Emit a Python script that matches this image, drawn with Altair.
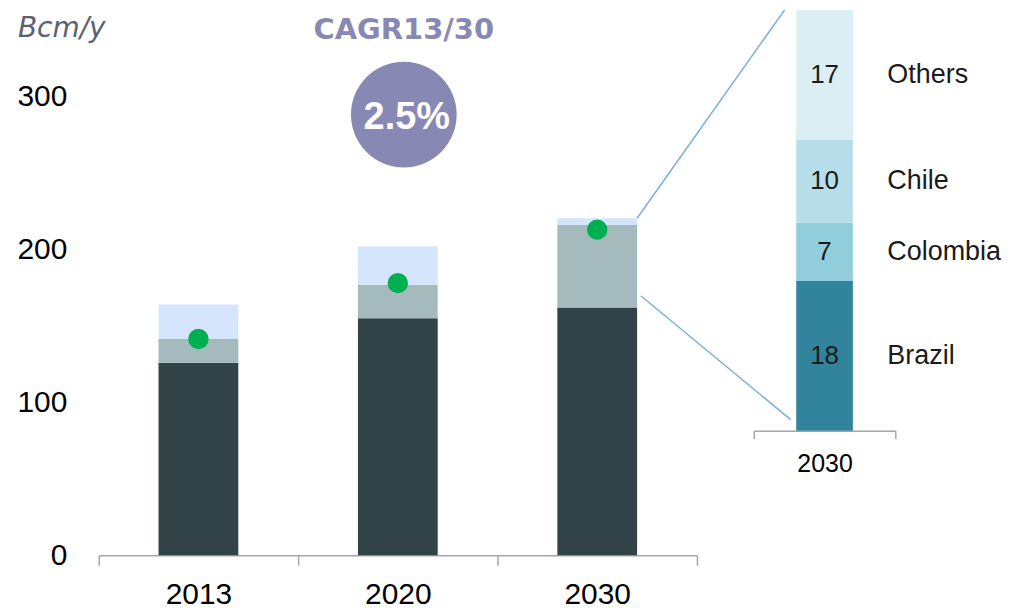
import altair as alt
import pandas as pd

# ---------------- data ----------------
years = ["2013", "2020", "2030"]
series = ["Segment 1", "Segment 2", "Segment 3"]
seg1_vals = [126, 155, 162]
seg2_vals = [15.5, 22, 54]
seg3_vals = [22.5, 25, 4.5]
dot_vals = [141.5, 178, 213]

inset_year = "2030"
countries = ["Brazil", "Colombia", "Chile", "Others"]
country_vals = [18, 7, 10, 17]

unit_label = "Bcm/y"
cagr_title = "CAGR13/30"
cagr_value = "2.5%"
y_ticks = [0, 100, 200, 300]

series_colors = ["#314346", "#a5babd", "#d5e5fb"]
country_colors = ["#31849b", "#92cddc", "#b7dee8", "#daeef3"]
dot_color = "#00b050"
accent = "#8888b4"
link_color = "#7bafd6"
axis_gray = "#a6a6a6"

rows = []
for i, (s, vals) in enumerate(zip(series, [seg1_vals, seg2_vals, seg3_vals])):
    for y, v in zip(years, vals):
        rows.append({"year": y, "series": s, "order": i, "value": v})
bars_df = pd.DataFrame(rows)
dots_df = pd.DataFrame({"year": years, "value": dot_vals})

# ---------------- main panel ----------------
W, H = 600, 547
PX = 460 / 300
ymax = H / PX

x_main = alt.X(
    "year:N", sort=years,
    scale=alt.Scale(paddingInner=0, paddingOuter=0),
    axis=alt.Axis(title=None, labelAngle=0, tickBand="extent", tickSize=10,
                  labelFontSize=30, labelFont="Liberation Sans", labelColor="#000",
                  labelPadding=14, domainColor=axis_gray, tickColor=axis_gray,
                  domainWidth=1.5, tickWidth=1.5, grid=False),
)
y_scale = alt.Scale(domain=[0, ymax], nice=False)
y_main = alt.Y(
    "value:Q", stack="zero", scale=y_scale,
    axis=alt.Axis(title=None, values=y_ticks, domain=False, ticks=False, grid=False,
                  labelFontSize=30, labelFont="Liberation Sans", labelColor="#000",
                  labelPadding=32),
)

bars = alt.Chart(bars_df).mark_bar(width=alt.RelativeBandSize(0.4)).encode(
    x=x_main,
    y=y_main,
    color=alt.Color("series:N", scale=alt.Scale(domain=series, range=series_colors), legend=None),
    order=alt.Order("order:Q"),
)

dots = alt.Chart(dots_df).mark_circle(size=420, color=dot_color, opacity=1).encode(
    x=alt.X("year:N", sort=years),
    y=alt.Y("value:Q", scale=y_scale),
)

one = pd.DataFrame({"k": [0]})

unit_txt = alt.Chart(pd.DataFrame({"t": [unit_label]})).mark_text(
    align="left", baseline="alphabetic", fontSize=28, fontStyle="italic",
    font="DejaVu Sans", color="#5b6172",
).encode(x=alt.value(-81), y=alt.value(27), text="t:N")

cagr_txt = alt.Chart(pd.DataFrame({"t": [cagr_title]})).mark_text(
    align="center", baseline="alphabetic", fontSize=29, fontWeight="bold",
    font="DejaVu Sans", color=accent,
).encode(x=alt.value(306), y=alt.value(29), text="t:N")

cagr_circle = alt.Chart(one).mark_point(
    shape="circle", filled=True, size=106 * 106, color=accent, opacity=1,
).encode(x=alt.value(306), y=alt.value(105))

cagr_val = alt.Chart(pd.DataFrame({"t": [cagr_value]})).mark_text(
    align="center", baseline="alphabetic", fontSize=38, fontWeight="bold",
    font="Liberation Sans", color="white",
).encode(x=alt.value(309), y=alt.value(119), text="t:N")

link1 = alt.Chart(one).mark_rule(color=link_color, strokeWidth=1.5).encode(
    x=alt.value(540), x2=alt.value(688), y=alt.value(209), y2=alt.value(0))
link2 = alt.Chart(one).mark_rule(color=link_color, strokeWidth=1.5).encode(
    x=alt.value(544), x2=alt.value(694), y=alt.value(287), y2=alt.value(411))

main = alt.layer(bars, dots, link1, link2, unit_txt, cagr_txt, cagr_circle, cagr_val).properties(
    width=W, height=H)

# ---------------- inset panel ----------------
inset_df = pd.DataFrame({
    "year": [inset_year] * len(countries),
    "country": countries,
    "value": country_vals,
    "order": list(range(len(countries))),
})
IW, IH = 142, 422
IPX = 8.34
imax = IH / IPX

x_in = alt.X(
    "year:N",
    scale=alt.Scale(paddingInner=0, paddingOuter=0),
    axis=alt.Axis(title=None, labelAngle=0, tickBand="extent", tickSize=8,
                  labelFontSize=25, labelFont="Liberation Sans", labelColor="#000",
                  labelPadding=13, domainColor=axis_gray, tickColor=axis_gray,
                  domainWidth=1.5, tickWidth=1.5, grid=False),
)
iy_scale = alt.Scale(domain=[0, imax], nice=False, clamp=True)

ibars = alt.Chart(inset_df).mark_bar(width=alt.RelativeBandSize(0.4)).encode(
    x=x_in,
    y=alt.Y("value:Q", stack="zero", scale=iy_scale, axis=None),
    color=alt.Color("country:N", scale=alt.Scale(domain=countries, range=country_colors), legend=None),
    order=alt.Order("order:Q"),
)

stacked = alt.Chart(inset_df).transform_stack(
    stack="value", groupby=["year"], as_=["y0", "y1"], sort=[alt.SortField("order")]
).transform_calculate(
    mid=f"(datum.y0 + min(datum.y1, {imax}))/2"
)

ivals = stacked.mark_text(fontSize=26, font="Liberation Sans", color="#1a1a1a",
                          align="center", baseline="middle").encode(
    x=alt.X("year:N"), y=alt.Y("mid:Q", scale=iy_scale, axis=None), text="value:Q")

inames = stacked.mark_text(fontSize=27, font="Liberation Sans", color="#1a1a1a",
                           align="left", baseline="middle", dx=63).encode(
    x=alt.X("year:N"), y=alt.Y("mid:Q", scale=iy_scale, axis=None), text="country:N")

inset = alt.layer(ibars, ivals, inames).properties(width=IW, height=IH)

chart = alt.hconcat(main, inset, spacing=57, bounds="flush").resolve_scale(
    color="independent"
).properties(
    padding={"left": 8, "top": 0, "right": 0, "bottom": 0}
).configure_view(stroke=None)

chart.save("out.html", embed_options={"renderer": "svg", "actions": False})
